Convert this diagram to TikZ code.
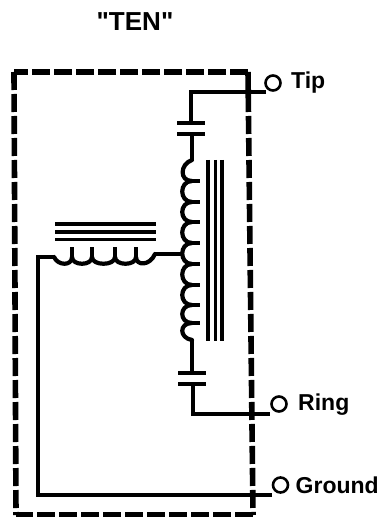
\documentclass[tikz,border=0pt]{standalone}
\usepackage{fontspec}
\newfontfamily\arialish{Liberation Sans}
\tikzset{
  wire/.style={line width=4.2bp,line cap=butt,line join=miter},
  coilline/.style={line width=4.2bp,line cap=round,line join=round},
  plate/.style={line width=4.4bp},
  core/.style={line width=3.8bp},
  boxline/.style={line width=5.6bp,dash pattern=on 18bp off 4bp},
  term/.style={circle,draw,line width=2.6bp,inner sep=0pt,minimum size=15bp},
  lab/.style={font=\arialish\fontsize{23bp}{25bp}\selectfont\bfseries,inner sep=0pt,anchor=west}
}
\begin{document}
\begin{tikzpicture}[x=1bp,y=-1bp]
\useasboundingbox (0,0) rectangle (382,517);
\node[font=\arialish\fontsize{26bp}{28bp}\selectfont\bfseries,inner sep=0pt] (title) at (135,22) {"TEN"};
% dashed enclosure
\coordinate (bTL) at (14,72);
\coordinate (bTR) at (248,72);
\coordinate (bBR) at (253,515);
\coordinate (bBL) at (16,515);
\draw[boxline] (bTR) -- (bTL);
\draw[boxline] (bTL) -- (bBL);
\draw[boxline] (bBR) -- (bBL);
\draw[boxline] (bTR) -- (bBR);
% terminals
\node[term] (tip) at (273,83) {};
\node[term] (ring) at (279,404) {};
\node[term] (gnd) at (280.5,485) {};
\node[lab] (tiplab) at (291,83) {Tip};
\node[lab] (ringlab) at (298,405) {Ring};
\node[lab] (gndlab) at (295.5,485) {Ground};
% junction coordinates
\coordinate (tipend) at (266,92);
\coordinate (tipcorner) at (191,92);
\coordinate (c1a) at (191,123);
\coordinate (c1b) at (192,134);
\coordinate (coilT) at (192,160);
\coordinate (coilB) at (192,340);
\coordinate (c2a) at (192,373);
\coordinate (c2b) at (193,384);
\coordinate (ringcorner) at (193,414);
\coordinate (ringend) at (270,414);
\coordinate (gndend) at (272,495);
\coordinate (gndcorner) at (38,495);
\coordinate (hleft) at (38,257);
\coordinate (hcoilL) at (54,257);
\coordinate (hcoilR) at (155,254);
\coordinate (tapR) at (184,254);
% wires
\draw[wire] (tipend) -- (tipcorner) -- (c1a);
\draw[wire] (c1b) -- (coilT);
\draw[wire] (coilB) -- (c2a);
\draw[wire] (c2b) -- (ringcorner) -- (ringend);
\draw[wire] (gndend) -- (gndcorner) -- (hleft) -- (hcoilL);
\draw[wire] (hcoilR) -- (tapR);
% capacitors
\draw[plate] (177,123) -- (205,123);
\draw[plate] (177,134) -- (205,134);
\draw[plate] (178,373) -- (206,373);
\draw[plate] (178,384) -- (206,384);
% vertical coil
\draw[coilline] (coilT)
  .. controls (180,164) and (179,181) .. (192,181)
  .. controls (179,181) and (179,202) .. (192,202)
  .. controls (179,202) and (179,222) .. (192,222)
  .. controls (179,222) and (179,243) .. (192,243)
  .. controls (179,243) and (179,264) .. (192,264)
  .. controls (179,264) and (179,285) .. (192,285)
  .. controls (179,285) and (179,305) .. (192,305)
  .. controls (179,305) and (179,323) .. (192,323)
  .. controls (179,323) and (179,338) .. (coilB);
\foreach \yy in {181,202,222,243,264,285,305,323}
  \draw[wire] (190,\yy) -- (200,\yy);
% horizontal coil
\draw[coilline] (hcoilL)
  .. controls (58,266) and (72,266) .. (72,257)
  .. controls (72,266) and (92,266) .. (92,257)
  .. controls (92,266) and (115,266) .. (115,257)
  .. controls (115,266) and (136,266) .. (136,257)
  .. controls (136,266) and (150,266) .. (hcoilR);
\foreach \xx in {72,92,115,136}
  \draw[wire] (\xx,247) -- (\xx,258);
% cores
\draw[core] (55,224) -- (156,224);
\draw[core] (55,232) -- (156,232);
\draw[core] (55,239.5) -- (156,239.5);
\draw[core] (208,160) -- (208,341);
\draw[core] (215.5,160) -- (215.5,341);
\draw[core] (222,160) -- (222,341);
\end{tikzpicture}
\end{document}
